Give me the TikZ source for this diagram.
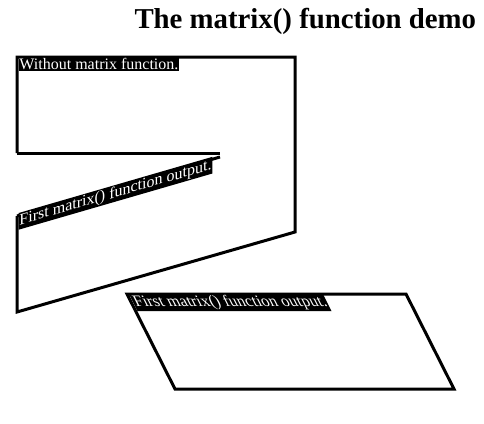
\documentclass[tikz,border=0pt]{standalone}
\usepackage{fontspec}
\setmainfont{Liberation Serif}
\usepackage{tikz}

\begin{document}
\begin{tikzpicture}[x=1pt, y=-1pt, line width=3pt,
    lbl/.style={fill=black, text=white, inner sep=1pt, font=\fontsize{16}{16}\selectfont}]
  \useasboundingbox (0,0) rectangle (484,423);
  \node[anchor=base west, inner sep=0pt, font=\fontsize{28.8}{28.8}\selectfont\bfseries] (title) at (133,28.5) {The matrix() function demo};
  % plain rectangle and the vertically skewed one
  \draw (17,153) -- (17,57) -- (295,57) -- (295,232) -- (17,312) -- (17,216);
  \draw (17,153) -- (220,153);
  \draw (17,216) -- (220,157);
  % horizontally skewed one
  \draw (127,294) -- (406,294) -- (454,389) -- (175,389) -- cycle;
  \node[lbl, anchor=north west] (plain) at (17,56) {Without matrix function.};
  \node[lbl, anchor=north west, yslant=0.29, transform shape] (skewy) at (17,212) {First matrix() function output.};
  \node[lbl, anchor=north west, xslant=-0.5, transform shape] (skewx) at (127,293) {First matrix() function output.};
\end{tikzpicture}
\end{document}
